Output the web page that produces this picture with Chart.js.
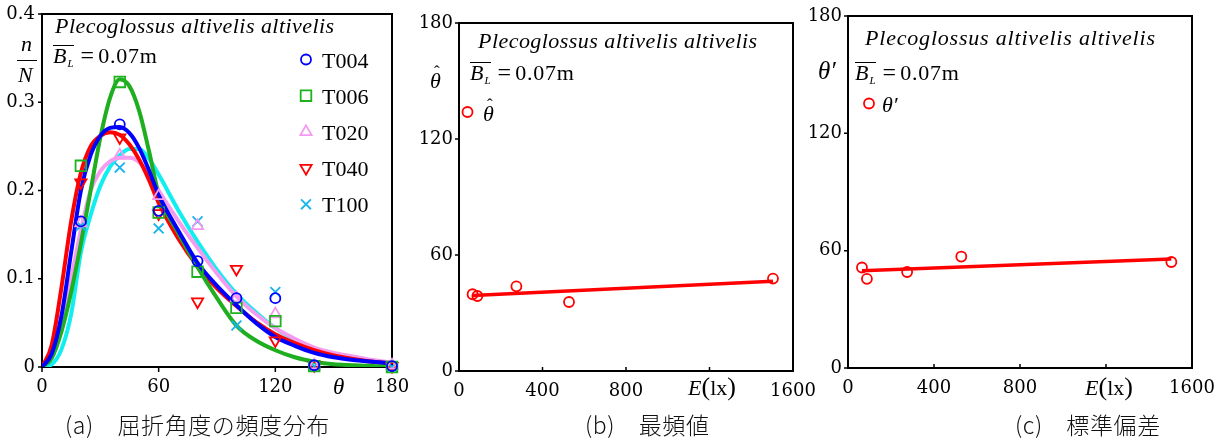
<!DOCTYPE html>
<html lang="ja">
<head>
<meta charset="utf-8">
<title>屈折角度の頻度分布</title>
<script src="https://cdn.jsdelivr.net/npm/chart.js@4.4.1/dist/chart.umd.min.js"></script>
<style>
  body { margin: 0; width: 1222px; height: 443px; background: #fff; position: relative; overflow: hidden; }
  canvas { position: absolute; top: 0; }
  .t { position: absolute; white-space: nowrap; font-family: "Liberation Serif", "Times New Roman", serif; font-size: 22px; line-height: 22px; color: #000; }
  .it { font-style: italic; }
  .sp { letter-spacing: 0.45px; }
  .bl { display: inline-block; border-top: 1.3px solid #000; line-height: 20px; }
  .bl sub { font-size: 11px; vertical-align: -4px; font-style: italic; margin-left: 1px; }
  .eq { font-size: 24px; margin: 0 4px 0 7px; }
  .num { letter-spacing: 0.8px; }
  .hat { position: relative; display: inline-block; font-style: italic; }
  .hat .h { position: absolute; left: 4px; top: -9px; font-style: normal; font-size: 17px; }
  .par { font-size: 26px; }
  .frac { position: absolute; height: 1.3px; background: #000; }
  .leg { position: absolute; left: 322px; white-space: nowrap; font-family: "Liberation Serif", "Times New Roman", serif; font-size: 22px; line-height: 22px; }
  .cap { position: absolute; white-space: nowrap; font-family: "Noto Sans CJK JP", sans-serif; font-weight: 300; font-size: 23px; line-height: 23px; letter-spacing: 0.6px; color: #111; }
</style>
</head>
<body>
<canvas id="chartA" width="410" height="443" style="left:0"></canvas>
<canvas id="chartB" width="415" height="443" style="left:405px"></canvas>
<canvas id="chartC" width="417" height="443" style="left:805px"></canvas>

<!-- panel (a) -->
<div class="t it sp" style="left:55px;top:15px">Plecoglossus altivelis altivelis</div>
<div class="t" style="left:53px;top:44px"><span class="bl"><i>B</i><sub>L</sub></span><span class="eq">=</span><span class="num">0.07m</span></div>
<div class="t it" style="left:21px;top:33px">n</div>
<div class="frac" style="left:17px;top:60px;width:20px"></div>
<div class="t it" style="left:18px;top:64px">N</div>
<div class="t it" style="left:333px;top:376px;font-size:23px">θ</div>
<div id="legendA"></div>
<div class="cap" style="left:65px;top:413px">(a)　屈折角度の頻度分布</div>

<!-- panel (b) -->
<div class="t it sp" style="left:478px;top:30px">Plecoglossus altivelis altivelis</div>
<div class="t" style="left:470px;top:61px"><span class="bl"><i>B</i><sub>L</sub></span><span class="eq">=</span><span class="num">0.07m</span></div>
<div class="t" style="left:430px;top:70px"><span class="hat">θ<span class="h">ˆ</span></span></div>
<div class="t" style="left:483px;top:103px"><span class="hat">θ<span class="h">ˆ</span></span></div>
<div class="t" style="left:688px;top:376px"><i>E</i><span class="par">(</span>lx<span class="par">)</span></div>
<div class="cap" style="left:585px;top:413px">(b)　最頻値</div>

<!-- panel (c) -->
<div class="t it sp" style="left:865px;top:27px;letter-spacing:0.8px">Plecoglossus altivelis altivelis</div>
<div class="t" style="left:855px;top:61px"><span class="bl"><i>B</i><sub>L</sub></span><span class="eq">=</span><span class="num">0.07m</span></div>
<div class="t it" style="left:818px;top:60px;font-size:25px">θ′</div>
<div class="t it" style="left:882px;top:94px">θ′</div>
<div class="t" style="left:1085px;top:376px"><i>E</i><span class="par">(</span>lx<span class="par">)</span></div>
<div class="cap" style="left:1015px;top:413px">(c)　標準偏差</div>

<script>
// Observed relative frequency n/N per refraction-angle class (deg)
const angleBins = [20, 40, 60, 80, 100, 120, 140, 180];
const obsT004 = [0.165, 0.275, 0.177, 0.120, 0.078, 0.078, 0.002, 0.001];
const obsT006 = [0.228, 0.323, 0.175, 0.108, 0.067, 0.052, 0.001, 0.000];
const obsT020 = [0.163, 0.240, 0.194, 0.160, 0.078, 0.060, 0.002, 0.002];
const obsT040 = [0.209, 0.260, 0.174, 0.074, 0.111, 0.030, 0.002, 0.001];
const obsT100 = [0.160, 0.226, 0.157, 0.165, 0.047, 0.085, 0.001, 0.000];

// Fitted distribution curves
const fitAngles = [0, 5, 10, 15, 20, 25, 30, 35, 40, 45, 50, 55, 60, 70, 80, 90, 100, 110, 120, 130, 140, 150, 160, 170, 180];
const fitT004 = [0, 0.015, 0.058, 0.130, 0.200, 0.240, 0.262, 0.271, 0.272, 0.265, 0.248, 0.223, 0.195, 0.155, 0.118, 0.092, 0.070, 0.050, 0.034, 0.024, 0.016, 0.011, 0.008, 0.006, 0.004];
const fitT006 = [0, 0.010, 0.040, 0.085, 0.140, 0.200, 0.260, 0.305, 0.326, 0.318, 0.290, 0.245, 0.196, 0.152, 0.113, 0.078, 0.047, 0.030, 0.019, 0.011, 0.006, 0.003, 0.002, 0.001, 0];
const fitT020 = [0, 0.012, 0.045, 0.100, 0.155, 0.200, 0.222, 0.233, 0.237, 0.237, 0.232, 0.218, 0.200, 0.166, 0.135, 0.106, 0.080, 0.060, 0.044, 0.032, 0.022, 0.016, 0.012, 0.008, 0.005];
const fitT040 = [0, 0.025, 0.090, 0.165, 0.220, 0.250, 0.262, 0.266, 0.263, 0.252, 0.235, 0.212, 0.186, 0.146, 0.114, 0.089, 0.069, 0.051, 0.037, 0.027, 0.019, 0.013, 0.009, 0.006, 0.004];
const fitT100 = [0, 0.003, 0.020, 0.060, 0.130, 0.172, 0.205, 0.227, 0.240, 0.247, 0.247, 0.236, 0.218, 0.178, 0.142, 0.110, 0.083, 0.062, 0.044, 0.031, 0.021, 0.014, 0.009, 0.006, 0.004];

// Illuminance E (lx) vs mode and standard deviation of refraction angle
const illuminance = [65, 88, 275, 527, 1504];
const modeAngle = [39.7, 38.8, 43.8, 35.7, 47.8];
const stdAngle = [51.4, 45.6, 49.1, 57.0, 54.2];
const trendE = [65, 1504];
const modeTrend = [39.1, 46.4];
const stdTrend = [49.7, 55.7];

// Tick values and labels
const angleTicks = [0, 60, 120, 180];
const angleLabels = ['0', '60', '120', '180'];
const freqTicks = [0, 0.1, 0.2, 0.3, 0.4];
const freqLabels = ['0', '0.1', '0.2', '0.3', '0.4'];
const luxTicks = [0, 400, 800, 1200, 1600];
const luxLabels = ['0', '400', '800', '', '1600'];

Chart.defaults.font.family = '"Liberation Serif", "Times New Roman", Times, serif';
Chart.defaults.color = '#000';

const toXY = (xs, ys) => xs.map((x, i) => ({ x: x, y: ys[i] }));

// marker outline in the same geometry Chart.js uses
function drawMark(ctx, ds, x, y) {
    const r = ds.pointRadius;
    const rot = (ds.pointRotation || 0) * Math.PI / 180;
    ctx.save();
    ctx.strokeStyle = ds.pointBorderColor;
    ctx.lineWidth = ds.pointBorderWidth;
    ctx.beginPath();
    if (ds.pointStyle === 'rect') {
        const s = r * Math.SQRT1_2;
        ctx.rect(x - s, y - s, 2 * s, 2 * s);
    } else if (ds.pointStyle === 'triangle') {
        let a = rot;
        ctx.moveTo(x + Math.sin(a) * r, y - Math.cos(a) * r);
        a += 2 * Math.PI / 3;
        ctx.lineTo(x + Math.sin(a) * r, y - Math.cos(a) * r);
        a += 2 * Math.PI / 3;
        ctx.lineTo(x + Math.sin(a) * r, y - Math.cos(a) * r);
        ctx.closePath();
    } else if (ds.pointStyle === 'crossRot') {
        const d = r * Math.SQRT1_2;
        ctx.moveTo(x - d, y - d); ctx.lineTo(x + d, y + d);
        ctx.moveTo(x - d, y + d); ctx.lineTo(x + d, y - d);
    } else {
        ctx.arc(x, y, r, 0, 2 * Math.PI);
    }
    ctx.stroke();
    ctx.restore();
}

// box around the plot plus short tick marks
const boxFrame = {
    id: 'boxFrame',
    beforeDatasetsDraw(chart, args, opts) {
        const { ctx, chartArea: a, scales } = chart;
        ctx.save();
        ctx.strokeStyle = '#000';
        ctx.lineWidth = 2;
        ctx.strokeRect(a.left, a.top, a.right - a.left, a.bottom - a.top);
        ctx.lineWidth = 1.5;
        ctx.beginPath();
        scales.x.ticks.forEach(t => {
            const px = scales.x.getPixelForValue(t.value);
            ctx.moveTo(px, a.bottom);
            ctx.lineTo(px, a.bottom + opts.xTick);
        });
        scales.y.ticks.forEach(t => {
            const py = scales.y.getPixelForValue(t.value);
            ctx.moveTo(a.left, py);
            ctx.lineTo(a.left - opts.yTick, py);
        });
        ctx.stroke();
        ctx.restore();
    }
};

// legend markers inside the plot, one row per marker dataset
const markLegend = {
    id: 'markLegend',
    afterDraw(chart, args, opts) {
        let row = 0;
        chart.data.datasets.forEach(ds => {
            if (ds.showLine) return;
            drawMark(chart.ctx, ds, opts.x, opts.y + row * opts.dy);
            row++;
        });
    }
};

function axis(values, labels, min, max, size, pad) {
    return {
        type: 'linear',
        min: min,
        max: max,
        afterBuildTicks: s => { s.ticks = values.map(v => ({ value: v })); },
        afterFit: s => {
            if (s.isHorizontal()) s.height = size; else s.width = size;
            // keep the plot box where the layout padding puts it
            s.paddingLeft = s.paddingRight = s.paddingTop = s.paddingBottom = 0;
        },
        ticks: {
            callback: (v, i) => labels[i],
            padding: pad,
            font: { size: 18, family: '"DejaVu Serif"' },
            color: '#000',
            maxRotation: 0,
            autoSkip: false
        },
        grid: { display: false, drawTicks: false },
        border: { display: false }
    };
}

function markers(label, data, style, radius, color, rotation) {
    return {
        label: label,
        data: data,
        showLine: false,
        pointStyle: style,
        pointRadius: radius,
        pointRotation: rotation || 0,
        pointBorderColor: color,
        pointBackgroundColor: 'rgba(0,0,0,0)',
        pointBorderWidth: 1.8,
        clip: false
    };
}

function curve(data, color, width) {
    return {
        data: data,
        showLine: true,
        borderColor: color,
        borderWidth: width,
        pointRadius: 0,
        cubicInterpolationMode: 'monotone',
        fill: false
    };
}

const charts = [];

// (a) frequency distribution of refraction angle
const legendA = { x: 306, y: 59.5, dy: 36.2 };
const chartA = new Chart(document.getElementById('chartA'), {
    type: 'scatter',
    data: {
        datasets: [
            markers('T004', toXY(angleBins, obsT004), 'circle', 5, '#0000ff'),
            markers('T006', toXY(angleBins, obsT006), 'rect', 7.5, '#1fb21f'),
            markers('T020', toXY(angleBins, obsT020), 'triangle', 6.5, '#f59af2'),
            markers('T040', toXY(angleBins, obsT040), 'triangle', 6.5, '#ff0000', 180),
            markers('T100', toXY(angleBins, obsT100), 'crossRot', 7, '#18b4ee'),
            curve(toXY(fitAngles, fitT004), '#0000ff', 4),
            curve(toXY(fitAngles, fitT006), '#1fae1f', 4),
            curve(toXY(fitAngles, fitT040), '#ff0000', 4),
            curve(toXY(fitAngles, fitT020), '#f49cf0', 4),
            curve(toXY(fitAngles, fitT100), '#10eef0', 4)
        ]
    },
    options: {
        responsive: false,
        animation: false,
        layout: { padding: { top: 14, right: 18, bottom: 36, left: 0 } },
        plugins: {
            legend: { display: false },
            tooltip: { enabled: false },
            boxFrame: { xTick: 5, yTick: 4 },
            markLegend: legendA
        },
        scales: {
            x: axis(angleTicks, angleLabels, 0, 180, 40, 10),
            y: axis(freqTicks, freqLabels, 0, 0.4, 42, 7)
        }
    },
    plugins: [boxFrame, markLegend]
});
charts.push(chartA);

// legend labels for (a), taken from the dataset labels
const legendBox = document.getElementById('legendA');
chartA.data.datasets.filter(ds => !ds.showLine).forEach((ds, i) => {
    const d = document.createElement('div');
    d.className = 'leg';
    d.style.top = (legendA.y + i * legendA.dy - 10) + 'px';
    d.textContent = ds.label;
    legendBox.appendChild(d);
});

// (b) mode and (c) standard deviation against illuminance
function illumChart(id, values, trend, pad, yWidth, legendPos) {
    return new Chart(document.getElementById(id), {
        type: 'scatter',
        data: {
            datasets: [
                markers('', toXY(illuminance, values), 'circle', 5, '#ff0000'),
                curve(toXY(trendE, trend), '#ff0000', 3.5)
            ]
        },
        options: {
            responsive: false,
            animation: false,
            layout: { padding: pad },
            plugins: {
                legend: { display: false },
                tooltip: { enabled: false },
                boxFrame: { xTick: -4, yTick: 4 },
                markLegend: { x: legendPos[0], y: legendPos[1], dy: 0 }
            },
            scales: {
                x: axis(luxTicks, luxLabels, 0, 1600, 40, 10),
                y: axis(angleTicks, angleLabels, 0, 180, yWidth, 6)
            }
        },
        plugins: [boxFrame, markLegend]
    });
}

charts.push(illumChart('chartB', modeAngle, modeTrend, { top: 23, right: 27, bottom: 32, left: 0 }, 54, [62.5, 112]));
charts.push(illumChart('chartC', stdAngle, stdTrend, { top: 16, right: 30, bottom: 35, left: 0 }, 43, [64, 103.5]));

// redraw after load so the canvas text gets the serif face
window.addEventListener('load', () => charts.forEach(c => c.update('none')));
</script>
</body>
</html>
